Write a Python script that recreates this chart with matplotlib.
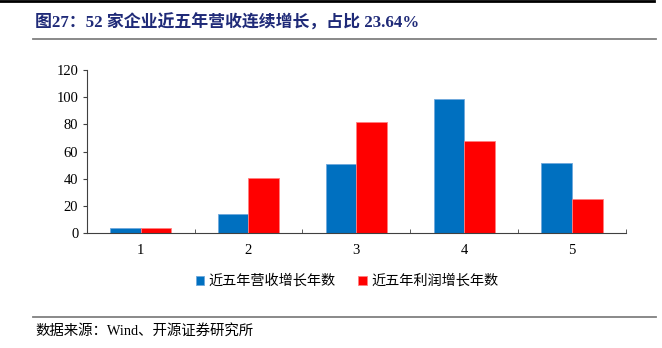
import matplotlib
matplotlib.use("Agg")
import matplotlib.pyplot as plt
import numpy as np
from matplotlib.lines import Line2D

plt.rcParams['font.family'] = ['Liberation Serif', 'Noto Sans CJK SC', 'DejaVu Sans']

categories = ["1", "2", "3", "4", "5"]
revenue_years = [4, 14, 51, 99, 52]
profit_years = [4, 41, 82, 68, 25]
series_names = ["近五年营收增长年数", "近五年利润增长年数"]
title = "图27：52 家企业近五年营收连续增长，占比 23.64%"
source = "数据来源：Wind、开源证券研究所"

blue = "#0070C0"
red = "#FF0000"

W, H = 662, 348
fig = plt.figure(figsize=(W / 100, H / 100), dpi=100)

# header / footer rules
fig.add_artist(Line2D([0, 654 / W], [1 - 1 / H, 1 - 1 / H], color="black", lw=2))
fig.add_artist(Line2D([33 / W, 656 / W], [1 - 39 / H, 1 - 39 / H], color="#808080", lw=1.3))
fig.add_artist(Line2D([33 / W, 656 / W], [1 - 317 / H, 1 - 317 / H], color="#808080", lw=1.3))

fig.text(35 / W, 1 - 23 / H, title, fontsize=12.2, fontweight="bold", color="#1F2A78",
         va="center", ha="left")
fig.text(35 / W, 1 - 331 / H, source, fontsize=10.4, color="black", va="center", ha="left",
         family=['Liberation Serif', 'Noto Sans CJK SC'])

ax = fig.add_axes([86.7 / W, 1 - 233.3 / H, (626 - 86.7) / W, (233.3 - 70) / H])

x = np.arange(1, len(categories) + 1)
bw = 0.284
ax.bar(x - bw / 2, revenue_years, bw, color=blue, edgecolor="#6FA8DC", linewidth=0.6,
       label=series_names[0])
ax.bar(x + bw / 2, profit_years, bw, color=red, edgecolor="#FF7F7F", linewidth=0.6,
       label=series_names[1])

ax.set_xlim(0.5, 5.5)
ax.set_ylim(0, 120)
ax.set_yticks(np.arange(0, 121, 20))
ax.set_xticks(x)
ax.set_xticklabels(categories)
ax.set_xticks(np.arange(0.5, 5.6, 1), minor=True)
ax.tick_params(axis="x", which="major", length=0, pad=8, labelsize=10.5)
ax.tick_params(axis="x", which="minor", direction="in", length=3, color="#404040")
ax.tick_params(axis="y", length=3, color="#404040", labelsize=10.5, pad=3)
for s in ["top", "right"]:
    ax.spines[s].set_visible(False)
ax.spines["left"].set_color("#404040")
ax.spines["bottom"].set_color("#404040")

fig.legend(loc="center", bbox_to_anchor=(347 / W, 1 - 281 / H), ncol=2, frameon=False,
           prop={"family": ["Noto Sans CJK SC"], "size": 10.2}, handlelength=0.6,
           handleheight=0.6, handletextpad=0.3, columnspacing=1.6)

fig.savefig("out.png", dpi=100)
